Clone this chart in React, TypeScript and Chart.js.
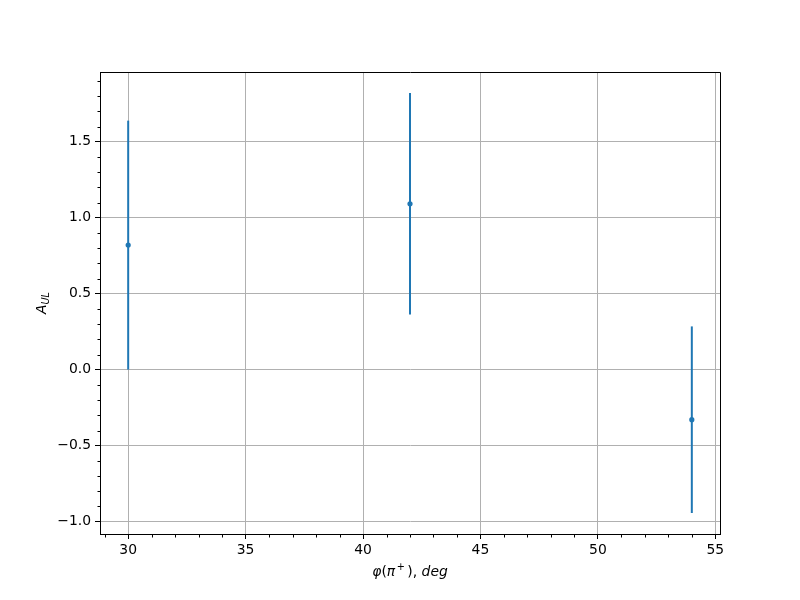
import { useEffect, useRef } from 'react';
import { Chart, registerables } from 'chart.js';

Chart.register(...registerables);

// ---- data ----
const xValues = [30, 42, 54];
const yValues = [0.82, 1.092, -0.329];
const yErrors = [0.819, 0.729, 0.614];
const xTicks = [30, 35, 40, 45, 50, 55];
const yTicks = [-1.0, -0.5, 0.0, 0.5, 1.0, 1.5];
const xRange = [28.8, 55.2];
const yRange = [-1.081, 1.959];
const xLabelParts = [
  { t: 'φ', italic: true, sup: false },
  { t: '(', italic: false, sup: false },
  { t: 'π', italic: true, sup: false },
  { t: '+', italic: false, sup: true },
  { t: '), ', italic: false, sup: false },
  { t: 'deg', italic: true, sup: false },
];

const BLUE = '#1f77b4';
const FONT = 'DejaVu Sans';
const FS = 13.9;

const decorPlugin = {
  id: 'decor',
  beforeDatasetsDraw(chart: any) {
    const { ctx, chartArea } = chart;
    const xs = chart.scales.x;
    const ys = chart.scales.y;
    ctx.save();
    ctx.beginPath();
    ctx.rect(chartArea.left, chartArea.top, chartArea.right - chartArea.left, chartArea.bottom - chartArea.top);
    ctx.clip();
    ctx.strokeStyle = BLUE;
    ctx.lineWidth = 2;
    for (let i = 0; i < xValues.length; i++) {
      const px = xs.getPixelForValue(xValues[i]);
      const y1 = ys.getPixelForValue(yValues[i] + yErrors[i]);
      const y2 = ys.getPixelForValue(yValues[i] - yErrors[i]);
      ctx.beginPath();
      ctx.moveTo(px, y1);
      ctx.lineTo(px, y2);
      ctx.stroke();
    }
    ctx.restore();
  },
  afterDraw(chart: any) {
    const { ctx, chartArea } = chart;
    const xs = chart.scales.x;
    const ys = chart.scales.y;
    const L = Math.round(chartArea.left) + 0.5;
    const R = Math.round(chartArea.right) + 0.5;
    const T = Math.round(chartArea.top) + 0.5;
    const B = Math.round(chartArea.bottom) + 0.5;
    ctx.save();
    ctx.strokeStyle = '#000';
    ctx.lineWidth = 1;
    ctx.beginPath();
    ctx.moveTo(L, T);
    ctx.lineTo(R, T);
    ctx.lineTo(R, B);
    ctx.stroke();
    // minor ticks
    ctx.beginPath();
    for (let v = Math.ceil(xRange[0]); v <= xRange[1]; v += 1) {
      if (xTicks.some((t) => Math.abs(t - v) < 1e-6)) continue;
      const px = Math.round(xs.getPixelForValue(v)) + 0.5;
      ctx.moveTo(px, B);
      ctx.lineTo(px, B + 3);
    }
    for (let k = Math.ceil(yRange[0] * 10); k <= Math.floor(yRange[1] * 10); k++) {
      const v = k / 10;
      if (yTicks.some((t) => Math.abs(t - v) < 1e-6)) continue;
      const py = Math.round(ys.getPixelForValue(v)) + 0.5;
      ctx.moveTo(L, py);
      ctx.lineTo(L - 3, py);
    }
    ctx.stroke();

    // x label
    ctx.fillStyle = '#000';
    ctx.textBaseline = 'alphabetic';
    const fontFor = (p: any) => `${p.italic ? 'italic ' : ''}${p.sup ? FS * 0.7 : FS}px "${FONT}"`;
    let total = 0;
    const widths = xLabelParts.map((p) => {
      ctx.font = fontFor(p);
      const w = ctx.measureText(p.t).width + (p.sup ? 4 : 0);
      total += w;
      return w;
    });
    const cx = (chartArea.left + chartArea.right) / 2;
    let x = cx - total / 2;
    const baseY = 576;
    xLabelParts.forEach((p, i) => {
      ctx.font = fontFor(p);
      ctx.fillText(p.t, p.sup ? x + 1.5 : x, p.sup ? baseY - 6 : baseY);
      x += widths[i];
    });

    // y label: A_{UL}
    const cy = (chartArea.top + chartArea.bottom) / 2;
    ctx.translate(42, cy);
    ctx.rotate(-Math.PI / 2);
    ctx.font = `italic ${FS}px "${FONT}"`;
    const wA = ctx.measureText('A').width;
    ctx.font = `italic ${FS * 0.7}px "${FONT}"`;
    const wS = ctx.measureText('UL').width;
    const sx = -(wA + wS) / 2;
    ctx.font = `italic ${FS}px "${FONT}"`;
    ctx.fillText('A', sx, 4);
    ctx.font = `italic ${FS * 0.7}px "${FONT}"`;
    ctx.fillText('UL', sx + wA, 7);
    ctx.restore();
  },
};

const fmtY = (v: number) => (v < 0 ? '\u2212' : '') + Math.abs(v).toFixed(1);

export default function App() {
  const ref = useRef<HTMLCanvasElement>(null);
  useEffect(() => {
    if (!ref.current) return;
    Chart.defaults.font.family = FONT;
    Chart.defaults.font.size = FS;
    Chart.defaults.color = '#000';
    const chart = new Chart(ref.current, {
      type: 'scatter',
      data: {
        datasets: [
          {
            data: xValues.map((x, i) => ({ x, y: yValues[i] })),
            backgroundColor: BLUE,
            borderColor: BLUE,
            pointRadius: 2.6,
            pointBorderWidth: 0,
            showLine: false,
          },
        ],
      },
      options: {
        animation: false,
        responsive: false,
        devicePixelRatio: 1,
        layout: { padding: { top: 72, right: 80, left: 0, bottom: 0 } },
        plugins: { legend: { display: false }, tooltip: { enabled: false } },
        scales: {
          x: {
            type: 'linear',
            min: xRange[0],
            max: xRange[1],
            afterBuildTicks: (s: any) => {
              s.ticks = xTicks.map((v) => ({ value: v }));
            },
            afterFit: (s: any) => {
              s.height = 66;
            },
            ticks: {
              autoSkip: false,
              maxRotation: 0,
              padding: 3,
              color: '#000',
              callback: (v: any) => String(v),
            },
            grid: {
              color: '#b0b0b0',
              lineWidth: 1,
              tickColor: '#000',
              tickLength: 5,
              tickWidth: 1,
              drawTicks: true,
            },
            border: { display: true, color: '#000', width: 1 },
          },
          y: {
            type: 'linear',
            min: yRange[0],
            max: yRange[1],
            afterBuildTicks: (s: any) => {
              s.ticks = yTicks.map((v) => ({ value: v }));
            },
            afterFit: (s: any) => {
              s.width = 100;
            },
            ticks: {
              autoSkip: false,
              padding: 4,
              color: '#000',
              callback: (v: any) => fmtY(Number(v)),
            },
            grid: {
              color: '#b0b0b0',
              lineWidth: 1,
              tickColor: '#000',
              tickLength: 5,
              tickWidth: 1,
              drawTicks: true,
            },
            border: { display: true, color: '#000', width: 1 },
          },
        },
      },
      plugins: [decorPlugin],
    });
    return () => chart.destroy();
  }, []);
  return (
    <div style={{ position: 'absolute', left: 0, top: 0, width: 800, height: 600 }}>
      <canvas ref={ref} width={800} height={600} />
    </div>
  );
}
